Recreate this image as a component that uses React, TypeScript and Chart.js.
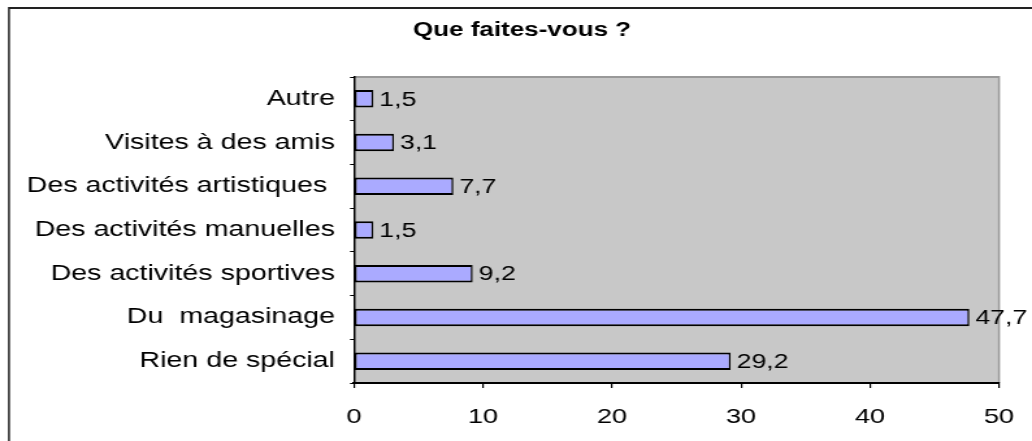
import { useEffect, useRef } from 'react';
import { Chart, registerables } from 'chart.js';

Chart.register(...registerables);

const categories = [
  'Autre',
  'Visites à des amis',
  'Des activités artistiques ',
  'Des activités manuelles',
  'Des activités sportives',
  'Du  magasinage',
  'Rien de spécial',
];
const values = [1.5, 3.1, 7.7, 1.5, 9.2, 47.7, 29.2];
const xMin = 0;
const xMax = 50;
const xStep = 10;
const title = 'Que faites-vous ?';

const FONT = '"Liberation Sans", Arial, sans-serif';

// The reference is rendered with horizontally widened text; the chart is drawn
// on a narrower canvas and stretched horizontally to 1032px.
const OUT_W = 1032;
const IN_W = 794;
const K = OUT_W / IN_W;
const H = 441;
const X = (px: number) => px / K; // outer px -> inner px

export default function App() {
  const ref = useRef<HTMLCanvasElement>(null);

  useEffect(() => {
    document.body.style.margin = '0';
    document.body.style.overflow = 'hidden';
    const canvas = ref.current!;

    const decor = {
      id: 'decor',
      beforeDraw(chart: any) {
        const { ctx, chartArea: a, width, height } = chart;
        ctx.save();
        ctx.fillStyle = '#ffffff';
        ctx.fillRect(0, 0, width, height);
        // outer frame (cropped by the window)
        ctx.strokeStyle = '#222222';
        ctx.lineWidth = 2;
        ctx.beginPath();
        ctx.moveTo(X(9), 8);
        ctx.lineTo(width + 5, 8);
        ctx.stroke();
        ctx.lineWidth = 1.5;
        ctx.beginPath();
        ctx.moveTo(X(9), 7);
        ctx.lineTo(X(9), height + 5);
        ctx.stroke();
        // plot background
        ctx.fillStyle = '#C8C8C8';
        ctx.fillRect(a.left, a.top, a.right - a.left, a.bottom - a.top);
        ctx.strokeStyle = '#999999';
        ctx.lineWidth = 2;
        ctx.beginPath();
        ctx.moveTo(a.left, a.top);
        ctx.lineTo(a.right, a.top);
        ctx.stroke();
        ctx.lineWidth = 1.5;
        ctx.beginPath();
        ctx.moveTo(a.right, a.top - 1);
        ctx.lineTo(a.right, a.bottom);
        ctx.stroke();
        // title
        ctx.fillStyle = '#000000';
        ctx.font = `bold 20px ${FONT}`;
        ctx.textAlign = 'center';
        ctx.textBaseline = 'alphabetic';
        ctx.fillText(title, X(522), 36);
        ctx.restore();
      },
      afterDatasetsDraw(chart: any) {
        const { ctx } = chart;
        const meta = chart.getDatasetMeta(0);
        ctx.save();
        ctx.font = `20.5px ${FONT}`;
        ctx.fillStyle = '#000000';
        ctx.textAlign = 'left';
        ctx.textBaseline = 'middle';
        meta.data.forEach((el: any, i: number) => {
          const { x, y } = el.getProps(['x', 'y'], true);
          ctx.fillText(String(values[i]).replace('.', ','), x + X(6), y + 1);
        });
        ctx.restore();
      },
    };

    const chart = new Chart(canvas, {
      type: 'bar',
      data: {
        labels: categories,
        datasets: [
          {
            data: values,
            backgroundColor: '#AAAAFF',
            borderColor: '#000000',
            borderWidth: { top: 2, bottom: 2, left: 1.5, right: 1.5 },
            borderSkipped: false,
            barPercentage: 0.4,
            categoryPercentage: 1.0,
          },
        ],
      },
      options: {
        indexAxis: 'y',
        responsive: false,
        animation: false,
        devicePixelRatio: 1,
        layout: { padding: { top: 77, right: IN_W - X(999), bottom: 0, left: 0 } },
        plugins: {
          legend: { display: false },
          tooltip: { enabled: false },
          title: { display: false },
        },
        scales: {
          y: {
            type: 'category',
            afterFit(scale: any) {
              scale.width = X(354);
            },
            grid: {
              display: true,
              drawOnChartArea: false,
              drawTicks: true,
              tickLength: X(4),
              color: '#000000',
              offset: true,
            },
            border: { display: true, color: '#000000', width: 1.5 },
            ticks: {
              autoSkip: false,
              color: '#000000',
              padding: X(15),
              font: { family: FONT, size: 22 },
            },
          },
          x: {
            type: 'linear',
            min: xMin,
            max: xMax,
            afterFit(scale: any) {
              scale.height = H - 383;
              scale.paddingLeft = 0;
              scale.paddingRight = 0;
            },
            grid: {
              display: true,
              drawOnChartArea: false,
              drawTicks: true,
              tickLength: 5,
              lineWidth: 1.2,
              color: '#000000',
            },
            border: { display: true, color: '#000000', width: 2 },
            ticks: {
              stepSize: xStep,
              color: '#000000',
              padding: 17,
              font: { family: FONT, size: 21 },
            },
          },
        },
      },
      plugins: [decor],
    });

    return () => chart.destroy();
  }, []);

  return (
    <div
      style={{
        width: IN_W,
        height: H,
        transform: `scaleX(${K})`,
        transformOrigin: '0 0',
      }}
    >
      <canvas ref={ref} width={IN_W} height={H} style={{ display: 'block', width: IN_W, height: H }} />
    </div>
  );
}
